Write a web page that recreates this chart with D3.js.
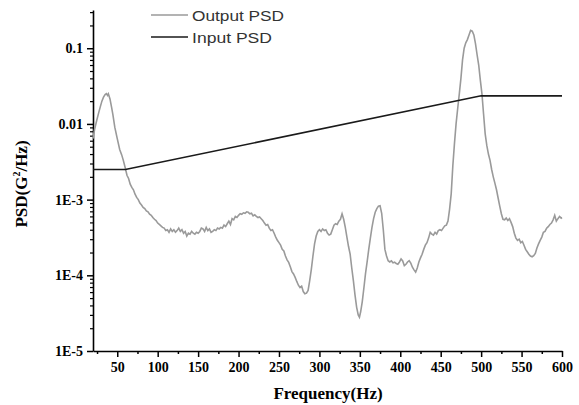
<!DOCTYPE html>
<html>
<head>
<meta charset="utf-8">
<script src="https://cdn.jsdelivr.net/npm/d3@7"></script>
<style>
  body { margin: 0; background: #fff; }
</style>
</head>
<body>
<svg></svg>
<script>
// output PSD (Hz, G^2/Hz)
var outFreq = [20, 22, 24.5, 27, 29, 31, 33, 35, 36.5, 38, 39, 41, 43, 44.5, 47, 50, 53, 55.5, 57.5, 60,
    62, 64, 66, 68, 70, 72, 74, 76, 78, 80, 82, 84, 86, 88, 90, 92, 94, 96, 98, 100,
    102, 104, 106, 108, 110, 112, 114, 116, 118, 120, 122, 124, 126, 128, 130, 132, 134, 136, 138, 140,
    142, 144, 146, 148, 150, 152, 154, 156, 158, 160, 162, 164, 166, 168, 170, 172, 174, 176, 178, 180,
    182, 184, 186, 188, 190, 192, 194, 196, 198, 200, 202, 204, 206, 208, 210, 212, 214, 216, 218, 220,
    222, 224, 226, 228, 230, 232, 234, 236, 238, 240, 242, 244, 246, 248, 250, 252, 254, 256, 258, 260,
    262, 264, 266, 268, 270, 272, 274, 276, 278, 280, 282, 284, 286, 288, 290, 292, 294, 296, 298, 300,
    302, 304, 306, 308, 310, 312, 314, 316, 318, 320, 322, 324, 326, 328, 330, 332, 334, 336, 338, 340,
    342, 344, 346, 348, 349.5, 351, 353, 355, 357, 359, 361, 363, 365, 367, 369, 371, 373, 375, 377, 379,
    381, 383, 385, 387, 389, 391, 393, 395, 397, 399, 401, 403, 405, 407, 409, 411, 413, 415, 417, 419,
    421, 423, 425, 427, 429, 431, 433, 435, 437, 439, 441, 443, 445, 447, 449, 451, 453, 455, 457, 459,
    461, 463, 465, 467, 469, 471, 473, 475, 477, 479, 481, 483, 485, 487, 489, 491, 493, 495, 497, 499,
    501, 503, 505, 507, 509, 511, 513, 515, 517, 519, 521, 523, 525, 527, 529, 531, 533, 535, 537, 539,
    541, 543, 545, 547, 549, 551, 553, 555, 557, 559, 561, 563, 565, 567, 569, 571, 573, 575, 577, 579,
    581, 583, 585, 587, 589, 591, 593, 595, 597, 599, 600];
var outPsd = [0.0064, 0.0085, 0.011, 0.014, 0.0168, 0.020, 0.0226, 0.0245, 0.0252, 0.0238, 0.0250, 0.0214, 0.0165, 0.0135, 0.0090, 0.0064, 0.0046, 0.0039, 0.0033, 0.0026,
    0.0021, 0.0019, 0.0016, 0.00145, 0.00135, 0.00118, 0.00107, 0.00100, 0.00090, 0.00085, 0.00079, 0.00076, 0.00071, 0.00069, 0.00064, 0.00062, 0.00058, 0.00055, 0.00053, 0.00049,
    0.00047, 0.00045, 0.00043, 0.00042, 0.00039, 0.00040, 0.00037, 0.00041, 0.00038, 0.00040, 0.00037, 0.00039, 0.00042, 0.00038, 0.00040, 0.00036, 0.00038, 0.00033, 0.00036, 0.00035,
    0.00038, 0.00036, 0.00035, 0.00037, 0.00036, 0.00038, 0.00042, 0.00041, 0.00038, 0.00043, 0.00039, 0.00041, 0.00037, 0.00038, 0.00040, 0.00039, 0.00042, 0.00041, 0.00043, 0.00042,
    0.00046, 0.00044, 0.00048, 0.00052, 0.00047, 0.00056, 0.00054, 0.00060, 0.00058, 0.00062, 0.00065, 0.00064, 0.00067, 0.00066, 0.00069, 0.00068, 0.00065, 0.00066, 0.00061, 0.00063,
    0.00060, 0.00058, 0.00059, 0.00056, 0.00053, 0.00049, 0.00046, 0.00047, 0.00042, 0.00039, 0.00040, 0.00036, 0.00032, 0.00029, 0.00027, 0.00025, 0.00022, 0.00021, 0.00018, 0.00016,
    0.000148, 0.000130, 0.000112, 0.000104, 0.000094, 0.000083, 0.000074, 0.000069, 0.000072, 0.000061, 0.000057, 0.000058, 0.000063, 0.000085, 0.000120, 0.00018, 0.00026, 0.00033, 0.00038, 0.00040,
    0.00038, 0.00041, 0.00039, 0.00040, 0.00036, 0.00034, 0.00035, 0.00040, 0.00046, 0.00048, 0.00047, 0.00052, 0.00055, 0.00065, 0.00055, 0.00043, 0.00032, 0.00024, 0.00019, 0.000125,
    0.000085, 0.000055, 0.000038, 0.000030, 0.000028, 0.000033, 0.000045, 0.000068, 0.000105, 0.000150, 0.00022, 0.00031, 0.00043, 0.00056, 0.00068, 0.00076, 0.00082, 0.00083, 0.00066, 0.00040,
    0.00022, 0.00018, 0.000156, 0.000150, 0.000155, 0.000146, 0.000149, 0.000143, 0.000140, 0.000150, 0.000165, 0.000155, 0.000134, 0.000140, 0.000150, 0.000156, 0.000145, 0.000128, 0.000118, 0.000110,
    0.000125, 0.000150, 0.000170, 0.00019, 0.00022, 0.00025, 0.00027, 0.00031, 0.00037, 0.00035, 0.00034, 0.00037, 0.00035, 0.00039, 0.00040, 0.00039, 0.00042, 0.00045, 0.00046, 0.00052,
    0.00075, 0.0012, 0.0028, 0.0055, 0.0100, 0.0160, 0.025, 0.040, 0.070, 0.100, 0.118, 0.130, 0.150, 0.172, 0.168, 0.150, 0.115, 0.082, 0.060, 0.038,
    0.025, 0.0135, 0.0074, 0.0052, 0.0040, 0.0033, 0.0025, 0.0020, 0.00165, 0.00135, 0.00105, 0.00082, 0.00065, 0.00055, 0.00054, 0.00057, 0.00053, 0.00056, 0.00050, 0.00044,
    0.00036, 0.00031, 0.00029, 0.00030, 0.00027, 0.00028, 0.00025, 0.00022, 0.000205, 0.000190, 0.000180, 0.000176, 0.000182, 0.000195, 0.00023, 0.00026, 0.00029, 0.00032, 0.00037, 0.00038,
    0.00042, 0.00044, 0.00047, 0.00049, 0.00054, 0.00062, 0.00052, 0.00056, 0.00060, 0.00057, 0.00058];

// input PSD profile
var inFreq = [20, 60, 500, 600];
var inPsd = [0.0025, 0.0025, 0.0235, 0.0235];

var xTicks = [50, 100, 150, 200, 250, 300, 350, 400, 450, 500, 550, 600];
var xMinor = [25, 75, 125, 175, 225, 275, 325, 375, 425, 475, 525, 575];
var yTicks = [1e-5, 1e-4, 1e-3, 0.01, 0.1];
var yTickLabels = ["1E-5", "1E-4", "1E-3", "0.01", "0.1"];
var legendNames = ["Output PSD", "Input PSD"];

var svgWidth = 579, svgHeight = 405;
var plotLeft = 93, plotRight = 562, plotTop = 10, plotBottom = 351;

var svg = d3.select('svg')
    .attr("width", svgWidth)
    .attr("height", svgHeight)
    ;

var x = d3.scaleLinear()
    .domain([20, 600])
    .range([plotLeft, plotRight]);

var y = d3.scaleLog()
    .domain([1e-5, 0.32])
    .range([plotBottom, plotTop]);

var serif = "'Liberation Serif', 'Times New Roman', serif";
var sans = "'Liberation Sans', Arial, sans-serif";

// minor log ticks 2..9 of each decade
var yMinor = [];
yTicks.forEach(function (d) {
    for (var k = 2; k <= 9; k++) {
        if (d * k <= 0.32) yMinor.push(d * k);
    }
});

// x axis
var xAxis = svg.append('g')
    .attr('transform', 'translate(0,' + plotBottom + ')')
    .call(d3.axisBottom(x).tickValues(xTicks).tickSize(6).tickPadding(5).tickSizeOuter(0))
    ;
xAxis.select('.domain').attr('stroke-width', 1.6);
xAxis.selectAll('.tick line').attr('stroke-width', 1.5);
xAxis.selectAll('text')
    .style('font-family', serif)
    .style('font-weight', 'bold')
    .style('font-size', '14px');

svg.append('g')
    .attr('transform', 'translate(0,' + plotBottom + ')')
    .call(d3.axisBottom(x).tickValues(xMinor).tickSize(3).tickFormat(''))
    .call(function (g) { g.select('.domain').remove(); })
    .selectAll('line').attr('stroke-width', 1.5);

// y axis
var yAxis = svg.append('g')
    .attr('transform', 'translate(' + plotLeft + ',0)')
    .call(d3.axisLeft(y).tickValues(yTicks).tickSize(6).tickPadding(4).tickSizeOuter(0)
        .tickFormat(function (d, i) { return yTickLabels[i]; }))
    ;
yAxis.select('.domain').attr('stroke-width', 1.6);
yAxis.selectAll('.tick line').attr('stroke-width', 1.5);
yAxis.selectAll('text')
    .style('font-family', serif)
    .style('font-weight', 'bold')
    .style('font-size', '14px');

svg.append('g')
    .attr('transform', 'translate(' + plotLeft + ',0)')
    .call(d3.axisLeft(y).tickValues(yMinor).tickSize(3).tickFormat(''))
    .call(function (g) { g.select('.domain').remove(); })
    .selectAll('line').attr('stroke-width', 1.2);

// curves
var line = d3.line()
    .x(function (d) { return x(d[0]); })
    .y(function (d) { return y(d[1]); })
    ;

svg.append('path')
    .datum(d3.zip(outFreq, outPsd))
    .attr('d', line)
    .attr('fill', 'none')
    .attr('stroke', '#9a9a9a')
    .attr('stroke-width', 1.6)
    ;

svg.append('path')
    .datum(d3.zip(inFreq, inPsd))
    .attr('d', line)
    .attr('fill', 'none')
    .attr('stroke', '#1a1a1a')
    .attr('stroke-width', 1.6)
    ;

// legend
var legendColors = ['#9a9a9a', '#1a1a1a'];
var legendWidths = [92, 80];
var lg = svg.selectAll('.legend')
    .data(legendNames)
    .enter()
    .append('g')
    .attr('transform', function (d, i) { return 'translate(151,' + (15 + i * 22) + ')'; })
    ;
lg.append('line')
    .attr('x1', 0).attr('x2', 37)
    .attr('stroke', function (d, i) { return legendColors[i]; })
    .attr('stroke-width', 1.6);
lg.append('text')
    .attr('x', 41)
    .attr('y', 5.5)
    .attr('textLength', function (d, i) { return legendWidths[i]; })
    .attr('lengthAdjust', 'spacingAndGlyphs')
    .style('font-family', sans)
    .style('font-size', '15px')
    .style('fill', '#333')
    .text(function (d) { return d; });

// axis titles
svg.append('text')
    .attr('x', 328)
    .attr('y', 399)
    .attr('text-anchor', 'middle')
    .style('font-family', serif)
    .style('font-weight', 'bold')
    .style('font-size', '17px')
    .text('Frequency(Hz)');

var yt = svg.append('text')
    .attr('transform', 'translate(27,184) rotate(-90)')
    .attr('text-anchor', 'middle')
    .style('font-family', serif)
    .style('font-weight', 'bold')
    .style('font-size', '17px')
    ;
yt.append('tspan').text('PSD(G');
yt.append('tspan').attr('dy', -7).style('font-size', '10px').text('2');
yt.append('tspan').attr('dy', 7).text('/Hz)');
</script>
</body>
</html>
